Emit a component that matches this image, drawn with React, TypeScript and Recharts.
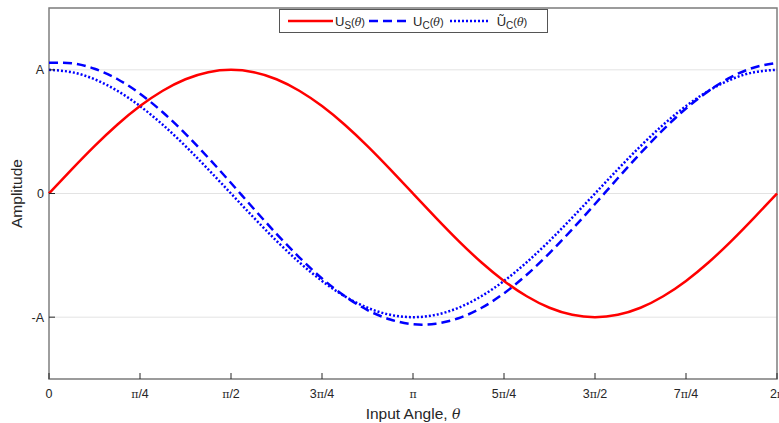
import { LineChart, Line, XAxis, YAxis, CartesianGrid, ReferenceArea } from 'recharts'

// input angle in units of pi (0 .. 2pi)
const THETA_OVER_PI = [
    0, 0.0625, 0.125, 0.1875, 0.25, 0.3125, 0.375, 0.4375, 0.5, 0.5625, 0.625, 0.6875, 0.75, 0.8125, 0.875, 0.9375,
    1, 1.0625, 1.125, 1.1875, 1.25, 1.3125, 1.375, 1.4375, 1.5, 1.5625, 1.625, 1.6875, 1.75, 1.8125, 1.875, 1.9375, 2,
]

// Us(theta) - solid red
const US = [
    0, 0.195, 0.383, 0.556, 0.707, 0.831, 0.924, 0.981, 1, 0.981, 0.924, 0.831, 0.707, 0.556, 0.383, 0.195,
    0, -0.195, -0.383, -0.556, -0.707, -0.831, -0.924, -0.981, -1, -0.981, -0.924, -0.831, -0.707, -0.556, -0.383, -0.195, 0,
]

// Uc(theta) - dashed blue
const UC = [
    1.057, 1.053, 1.009, 0.926, 0.807, 0.657, 0.482, 0.289, 0.085, -0.123, -0.326, -0.516, -0.687, -0.83, -0.943, -1.019,
    -1.057, -1.053, -1.009, -0.926, -0.807, -0.657, -0.482, -0.289, -0.085, 0.123, 0.326, 0.516, 0.687, 0.83, 0.943, 1.019, 1.057,
]

// tilde Uc(theta) - dotted blue
const UC_TILDE = [
    1, 0.981, 0.924, 0.831, 0.707, 0.556, 0.383, 0.195, 0, -0.195, -0.383, -0.556, -0.707, -0.831, -0.924, -0.981,
    -1, -0.981, -0.924, -0.831, -0.707, -0.556, -0.383, -0.195, 0, 0.195, 0.383, 0.556, 0.707, 0.831, 0.924, 0.981, 1,
]

const X_TICKS = [0, 0.25, 0.5, 0.75, 1, 1.25, 1.5, 1.75, 2]
const X_TICK_LABELS = ['0', 'π/4', 'π/2', '3π/4', 'π', '5π/4', '3π/2', '7π/4', '2π']
const Y_TICKS = [-1, 0, 1]
const Y_TICK_LABELS = ['-A', '0', 'A']

const data = THETA_OVER_PI.map((t, i) => ({ t, us: US[i], uc: UC[i], ucTilde: UC_TILDE[i] }))

const FONT = '"Liberation Sans", Arial, sans-serif'
const TEXT = '#262626'
const BOX = '#7f7f7f'

// tick label with pi drawn in a serif face, like MATLAB's tex
const PiText = ({ label }: { label: string }) => {
    const parts = label.split('π')
    return (
        <>
            {parts.map((p, i) => (
                <tspan key={i}>
                    {p}
                    {i < parts.length - 1 && <tspan fontFamily="'DejaVu Serif', serif" fontSize={11}>π</tspan>}
                </tspan>
            ))}
        </>
    )
}

const XTick = (props: any) => {
    const { x, y, payload } = props
    const idx = X_TICKS.indexOf(payload.value)
    return (
        <g>
            <line x1={x} x2={x} y1={y} y2={y - 6} stroke={TEXT} strokeWidth={1} />
            <text x={x} y={y + 19} textAnchor="middle" fill={TEXT} fontSize={12.5} fontFamily={FONT}>
                <PiText label={X_TICK_LABELS[idx] ?? ''} />
            </text>
        </g>
    )
}

const YTick = (props: any) => {
    const { x, y, payload } = props
    const idx = Y_TICKS.indexOf(payload.value)
    return (
        <g>
            <line x1={x} x2={x + 6} y1={y} y2={y} stroke={TEXT} strokeWidth={1} />
            <text x={x - 5} y={y + 4.5} textAnchor="end" fill={TEXT} fontSize={12.5} fontFamily={FONT}>
                {Y_TICK_LABELS[idx]}
            </text>
        </g>
    )
}

const Theta = () => <span style={{ fontFamily: "'DejaVu Serif', serif", fontStyle: 'italic', fontSize: 11 }}>θ</span>

const LegendLabel = ({ u, sub }: { u: string; sub: string }) => (
    <span style={{ color: TEXT, fontSize: 13, whiteSpace: 'nowrap' }}>
        {u}
        <span style={{ fontSize: 10, position: 'relative', top: 3 }}>{sub}</span>
        <span style={{ fontSize: 11 }}>(<Theta />)</span>
    </span>
)

const Swatch = ({ dash, width, sw, color }: { dash?: string; width: number; sw: number; color: string }) => (
    <svg width={width} height={6} style={{ display: 'block' }}>
        <line x1={0} x2={width} y1={3} y2={3} stroke={color} strokeWidth={sw} strokeDasharray={dash} />
    </svg>
)

export default function App() {
    return (
        <div style={{ position: 'absolute', left: 0, top: 0, width: 779, height: 423, background: '#fff', fontFamily: FONT }}>
            <LineChart width={779} height={423} data={data} margin={{ top: 8, right: 2, bottom: 0, left: 0 }}>
                <CartesianGrid vertical={false} stroke="#e3e3e3" />
                <XAxis
                    dataKey="t"
                    type="number"
                    domain={[0, 2]}
                    ticks={X_TICKS}
                    interval={0}
                    height={44}
                    axisLine={false}
                    tickLine={false}
                    tickSize={0}
                    tickMargin={0}
                    tick={<XTick />}
                    label={{
                        content: (p: any) => (
                            <text x={p.viewBox.x + p.viewBox.width / 2} y={p.viewBox.y + 40} textAnchor="middle" fill={TEXT} fontSize={15.5} fontFamily={FONT}>
                                Input Angle, <tspan fontFamily="'DejaVu Serif', serif" fontStyle="italic" fontSize={14}>θ</tspan>
                            </text>
                        ),
                    }}
                />
                <YAxis
                    type="number"
                    domain={[-1.5, 1.5]}
                    ticks={Y_TICKS}
                    interval={0}
                    width={49}
                    axisLine={false}
                    tickLine={false}
                    tickSize={0}
                    tickMargin={0}
                    tick={<YTick />}
                    label={{
                        content: (p: any) => (
                            <text
                                transform={`translate(${p.viewBox.x + 22}, ${p.viewBox.y + p.viewBox.height / 2}) rotate(-90)`}
                                textAnchor="middle"
                                fill={TEXT}
                                fontSize={15.5}
                                fontFamily={FONT}
                            >
                                Amplitude
                            </text>
                        ),
                    }}
                />
                <ReferenceArea x1={0} x2={2} y1={-1.5} y2={1.5} fill="none" stroke={BOX} strokeWidth={1.5} ifOverflow="visible" />
                <Line type="natural" dataKey="uc" stroke="#0000ff" strokeWidth={2.5} strokeDasharray="9 5" dot={false} isAnimationActive={false} />
                <Line type="natural" dataKey="ucTilde" stroke="#0000ff" strokeWidth={2.5} strokeDasharray="2 2" dot={false} isAnimationActive={false} />
                <Line type="natural" dataKey="us" stroke="#ff0000" strokeWidth={2.5} dot={false} isAnimationActive={false} />
            </LineChart>
            <div
                style={{
                    position: 'absolute',
                    left: 279,
                    top: 9,
                    width: 269,
                    height: 24,
                    border: '1px solid #555',
                    background: '#fff',
                    display: 'flex',
                    alignItems: 'center',
                    boxSizing: 'border-box',
                    paddingLeft: 8,
                }}
            >
                <Swatch width={45} sw={2.5} color="#ff0000" />
                <span style={{ marginLeft: 2 }}><LegendLabel u="U" sub="S" /></span>
                <span style={{ marginLeft: 4 }}><Swatch width={42} sw={2.5} color="#0000ff" dash="9 5" /></span>
                <span style={{ marginLeft: 2 }}><LegendLabel u="U" sub="C" /></span>
                <span style={{ marginLeft: 6 }}><Swatch width={40} sw={2.5} color="#0000ff" dash="2 2" /></span>
                <span style={{ marginLeft: 7 }}><LegendLabel u="Ũ" sub="C" /></span>
            </div>
        </div>
    )
}
